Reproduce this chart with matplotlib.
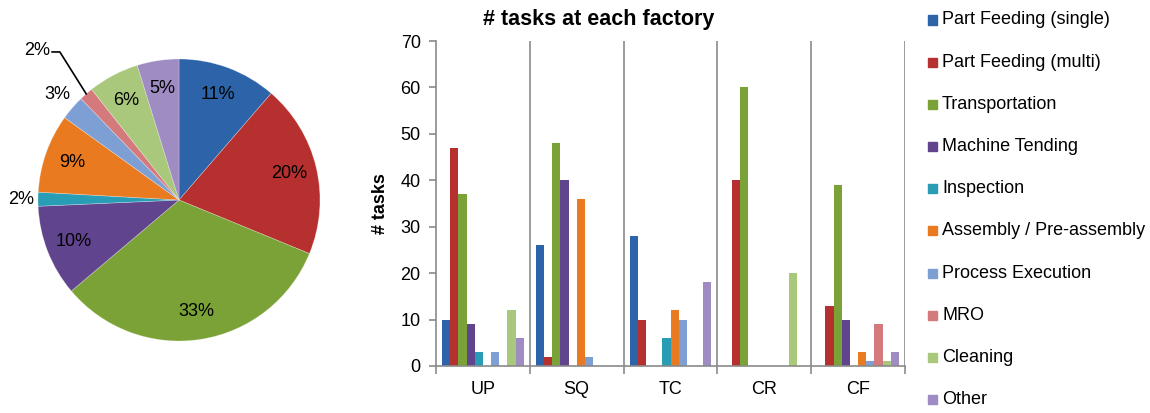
import numpy as np
import matplotlib
matplotlib.use("Agg")
import matplotlib.pyplot as plt
from matplotlib.patches import Rectangle

plt.rcParams['font.family'] = ['Liberation Sans', 'DejaVu Sans']

factories = ["UP", "SQ", "TC", "CR", "CF"]
task_types = ["Part Feeding (single)", "Part Feeding (multi)", "Transportation",
              "Machine Tending", "Inspection", "Assembly / Pre-assembly",
              "Process Execution", "MRO", "Cleaning", "Other"]

# tasks per factory, one list per task type (order: UP, SQ, TC, CR, CF)
part_feeding_single = [10, 26, 28, 0, 0]
part_feeding_multi = [47, 2, 10, 40, 13]
transportation = [37, 48, 0, 60, 39]
machine_tending = [9, 40, 0, 0, 10]
inspection = [3, 0, 6, 0, 0]
assembly = [0, 36, 12, 0, 3]
process_execution = [3, 2, 10, 0, 1]
mro = [0, 0, 0, 0, 9]
cleaning = [12, 0, 0, 20, 1]
other = [6, 0, 18, 0, 3]

series = [part_feeding_single, part_feeding_multi, transportation, machine_tending,
          inspection, assembly, process_execution, mro, cleaning, other]

colors = ["#2d63a8", "#b5302f", "#7ba236", "#61448e", "#2a9db6",
          "#ea7a1f", "#7e9fd4", "#d47a7c", "#a9c87c", "#9f8cc3"]

W, H = 1150, 413
fig = plt.figure(figsize=(W / 100, H / 100), dpi=100)

def px_axes(x0, y0, x1, y1):
    return fig.add_axes([x0 / W, 1 - y1 / H, (x1 - x0) / W, (y1 - y0) / H])

FS = 13

# ---------- pie: share of all tasks ----------
totals = [sum(s) for s in series]
pax = px_axes(38, 59, 320, 341)
wedges, texts, autotexts = pax.pie(
    totals, colors=colors, startangle=90, counterclock=False,
    autopct=lambda p: "%.0f%%" % p, pctdistance=0.8, radius=1.0,
    wedgeprops=dict(edgecolor=(1, 1, 1, 0.35), linewidth=0.5),
    textprops=dict(fontsize=FS, color="black"))
pax.set_xlim(-1, 1)
pax.set_ylim(-1, 1)
pax.set_aspect("equal")
pax.axis("off")

frac = np.array(totals) / sum(totals)
cum = np.concatenate([[0], np.cumsum(frac)])

def direction(i):
    mid = (cum[i] + cum[i + 1]) / 2 * 2 * np.pi
    return np.sin(mid), np.cos(mid)

# small slices labelled outside the pie
for i, dist in [(4, 1.12), (6, 1.14)]:
    dx, dy = direction(i)
    autotexts[i].set_position((dx * dist, dy * dist))
    autotexts[i].set_ha("center")

dx, dy = direction(7)
pax.plot([dx * 1.0, -0.845, -0.90], [dy * 1.0, 1.05, 1.05],
         color="black", lw=1.2, clip_on=False)
autotexts[7].set_position((-0.915, 1.06))
autotexts[7].set_ha("right")

# ---------- bars: tasks at each factory ----------
bax = px_axes(436, 41, 905, 366)
n = len(series)
bw = 0.087
start = (1 - n * bw) / 2
x = np.arange(len(factories))
for k, (vals, c) in enumerate(zip(series, colors)):
    bax.bar(x + start + (k + 0.5) * bw, vals, width=bw, color=c,
            edgecolor="none", label=task_types[k])

bax.set_xlim(0, len(factories))
bax.set_ylim(0, 70)
bax.set_yticks(range(0, 71, 10))
bax.set_xticks(range(len(factories) + 1))
bax.set_xticklabels([])
bax.set_xticks(x + 0.5, minor=True)
bax.set_xticklabels(factories, minor=True, fontsize=FS)
bax.tick_params(axis="x", which="major", length=6, width=1.2, color="#8a8a8a", direction="out")
bax.tick_params(axis="x", which="minor", length=0, pad=11)
bax.tick_params(axis="y", length=5, width=1.2, color="#8a8a8a", labelsize=FS, pad=6)
for xv in range(1, len(factories) + 1):
    bax.axvline(xv, color="#8a8a8a", lw=1.2)
for sp in ["top", "right"]:
    bax.spines[sp].set_visible(False)
for sp in ["left", "bottom"]:
    bax.spines[sp].set_color("#8a8a8a")
    bax.spines[sp].set_linewidth(1.2)
bax.set_ylabel("# tasks", fontsize=FS, fontweight="bold", labelpad=8)

fig.text(599 / W, 1 - 20 / H, "# tasks at each factory", fontsize=15.5,
         fontweight="bold", ha="center", va="center")

# ---------- legend ----------
for k, (name, c) in enumerate(zip(task_types, colors)):
    yc = 20 + k * 42.2
    fig.patches.append(Rectangle(((928) / W, 1 - (yc + 4.5) / H), 9 / W, 9 / H,
                                 transform=fig.transFigure, color=c))
    fig.text(942 / W, 1 - yc / H, name, fontsize=FS, ha="left", va="center")

fig.savefig("out.png", dpi=100)
